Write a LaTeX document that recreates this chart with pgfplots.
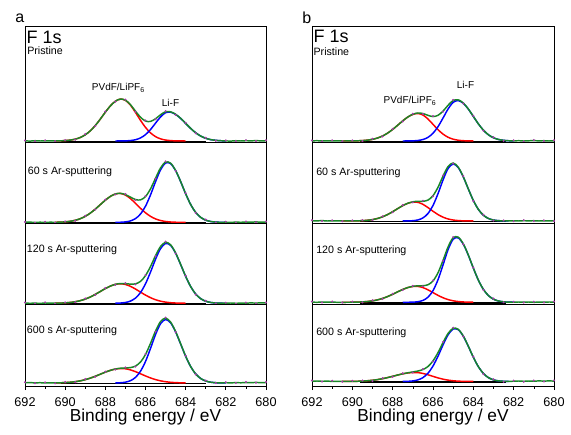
\documentclass[border=0pt]{standalone}
\usepackage{pgfplots}
\pgfplotsset{compat=1.18}
\usepackage{fontspec}
\setmainfont{Liberation Sans}
\definecolor{fitgreen}{RGB}{25,135,40}
\definecolor{datam}{RGB}{170,60,170}
\pgfplotsset{
  sub/.style={
    scale only axis, anchor=north west,
    xmin=680, xmax=692, x dir=reverse,
    ytick=\empty, xtick=\empty,
    axis line style={line width=0.6pt, black},
    clip=false,
  },
  bottom/.style={
    xtick={680,682,...,692}, minor xtick={681,683,...,691},
    xtick pos=bottom, tick align=outside,
    major tick length=3pt, minor tick length=2pt,
    tick style={black, line width=0.5pt},
    /pgf/number format/assume math mode=true,
    xticklabel style={anchor=base, yshift=-12pt, font=\fontsize{9.5}{11}\selectfont},
  },
}
\tikzset{
  redc/.style={color=red, line width=1.1pt, smooth, mark=none},
  bluec/.style={color=blue, line width=1.1pt, smooth, mark=none},
  greenc/.style={color=fitgreen, line width=1.1pt, smooth, mark=none},
  basec/.style={color=black, line width=1.1pt, mark=none},
  datac/.style={color=datam, only marks, mark=*, mark size=0.55pt},
}
\begin{document}
\begin{tikzpicture}
\path[use as bounding box] (0,0) rectangle (428.25pt,-326.25pt);

% ================= Panel a =================
% Pristine
\begin{axis}[sub, at={(18.75pt,-19.5pt)}, width=180.75pt, height=87pt, ymin=-1, ymax=115]
\addplot[basec] coordinates {(690.2,-0.6)(683,-0.6)};
\addplot[datac] coordinates {(692,0.6)(691.5,-0.3)(691,0.7)(690.5,-0.2)(690,0.9)(689.5,1.3)(689,6.9)(688.5,14.9)(688,29.5)(687.5,39.3)(687,41.4)(686.5,29.3)(686,20.6)(685.5,21.7)(685,29.9)(684.5,26.2)(684,18.2)(683.5,7.7)(683,3.2)(682.5,0.2)(682,0.6)(681.5,-0.2)(681,0.8)(680.5,0.0)(680,0.7)};
\addplot[redc] coordinates {(690.5,0.07)(690.25,0.17)(690,0.41)(689.75,0.90)(689.5,1.84)(689.25,3.51)(689,6.20)(688.75,10.16)(688.5,15.48)(688.25,21.9)(688,28.8)(687.75,35.1)(687.5,39.8)(687.25,41.9)(687,40.7)(686.75,35.9)(686.5,28.6)(686.25,20.7)(686,13.6)(685.75,8.13)(685.5,4.39)(685.25,2.15)(685,0.96)(684.75,0.39)(684.5,0.14)(684.25,0.05)(684,0.01)};
\addplot[bluec] coordinates {(687.5,0.01)(687.25,0.04)(687,0.14)(686.75,0.46)(686.5,1.27)(686.25,3.06)(686,6.35)(685.75,11.44)(685.5,17.86)(685.25,24.1)(685,28.3)(684.75,28.8)(684.5,26.6)(684.25,22.6)(684,17.6)(683.75,12.55)(683.5,8.22)(683.25,4.93)(683,2.71)(682.75,1.37)(682.5,0.64)(682.25,0.27)(682,0.10)};
\addplot[greenc] coordinates {(692,0.2)(691.75,-0.1)(691.5,0.3)(691.25,0.0)(691,0.2)(690.75,0.1)(690.5,0.07)(690.25,0.17)(690,0.41)(689.75,0.90)(689.5,1.84)(689.25,3.51)(689,6.20)(688.75,10.16)(688.5,15.48)(688.25,21.9)(688,28.8)(687.75,35.1)(687.5,39.8)(687.25,41.94)(687,40.84)(686.75,36.36)(686.5,29.87)(686.25,23.76)(686,19.95)(685.75,19.57)(685.5,22.25)(685.25,26.25)(685,29.26)(684.75,29.19)(684.5,26.74)(684.25,22.65)(684,17.6)(683.75,12.55)(683.5,8.22)(683.25,4.93)(683,2.71)(682.75,1.37)(682.5,0.64)(682.25,0.27)(682,0.10)(681.75,-0.1)(681.5,0.3)(681.25,0.0)(681,0.3)(680.75,0.1)(680.5,0.4)(680.25,0.1)(680,0.3)};
\end{axis}
% 60 s
\begin{axis}[sub, at={(18.75pt,-106.5pt)}, width=180.75pt, height=60.75pt, ymin=-0.6, ymax=80.4]
\addplot[basec] coordinates {(690.2,-0.6)(683,-0.6)};
\addplot[datac] coordinates {(692,0.5)(691.5,-0.4)(691,0.6)(690.5,-0.3)(690,1.0)(689.5,1.6)(689,6.7)(688.5,12.8)(688,22.8)(687.5,27.9)(687,28.4)(686.5,22.3)(686,26.4)(685.5,43.6)(685,61.0)(684.5,51.4)(684,29.2)(683.5,9.5)(683,2.8)(682.5,-0.2)(682,0.7)(681.5,-0.1)(681,0.9)(680.5,0.1)(680,0.8)};
\addplot[redc] coordinates {(690.5,0.11)(690.25,0.26)(690,0.55)(689.75,1.12)(689.5,2.10)(689.25,3.68)(689,6.05)(688.75,9.27)(688.5,13.28)(688.25,17.77)(688,22.2)(687.75,26.0)(687.5,28.4)(687.25,28.95)(687,27.3)(686.75,23.8)(686.5,19.1)(686.25,14.1)(686,9.62)(685.75,6.04)(685.5,3.49)(685.25,1.87)(685,0.92)(684.75,0.41)(684.5,0.17)(684.25,0.07)(684,0.02)};
\addplot[bluec] coordinates {(687.5,0.04)(687.25,0.15)(687,0.51)(686.75,1.48)(686.5,3.77)(686.25,8.36)(686,16.2)(685.75,27.5)(685.5,40.7)(685.25,52.6)(685,59.4)(684.75,58.8)(684.5,51.8)(684.25,40.8)(684,28.6)(683.75,17.9)(683.5,10.0)(683.25,5.0)(683,2.22)(682.75,0.88)(682.5,0.31)(682.25,0.10)(682,0.03)};
\addplot[greenc] coordinates {(692,0.1)(691.75,0.3)(691.5,-0.1)(691.25,0.2)(691,0.0)(690.75,0.2)(690.5,0.11)(690.25,0.26)(690,0.55)(689.75,1.12)(689.5,2.10)(689.25,3.68)(689,6.05)(688.75,9.27)(688.5,13.28)(688.25,17.77)(688,22.2)(687.75,26.0)(687.5,28.44)(687.25,29.1)(687,27.81)(686.75,25.28)(686.5,22.87)(686.25,22.46)(686,25.82)(685.75,33.54)(685.5,44.19)(685.25,54.47)(685,60.32)(684.75,59.21)(684.5,51.97)(684.25,40.87)(684,28.62)(683.75,17.9)(683.5,10.0)(683.25,5.0)(683,2.22)(682.75,0.88)(682.5,0.31)(682.25,0.10)(682,0.2)(681.75,0.0)(681.5,0.3)(681.25,0.1)(681,0.4)(680.75,0.2)(680.5,0.5)(680.25,0.2)(680,0.4)};
\end{axis}
% 120 s
\begin{axis}[sub, at={(18.75pt,-167.25pt)}, width=180.75pt, height=60.75pt, ymin=-0.7, ymax=80.3]
\addplot[basec] coordinates {(690.2,-0.6)(683,-0.6)};
\addplot[datac] coordinates {(692,0.8)(691.5,-0.3)(691,0.9)(690.5,-0.4)(690,0.9)(689.5,1.0)(689,4.9)(688.5,8.4)(688,15.3)(687.5,18.5)(687,20.2)(686.5,18.9)(686,28.3)(685.5,47.1)(685,61.7)(684.5,49.8)(684,27.6)(683.5,8.7)(683,2.6)(682.5,-0.2)(682,0.6)(681.5,-0.4)(681,0.7)(680.5,-0.2)(680,0.8)};
\addplot[redc] coordinates {(690.5,0.10)(690.25,0.22)(690,0.44)(689.75,0.86)(689.5,1.55)(689.25,2.64)(689,4.22)(688.75,6.33)(688.5,8.93)(688.25,11.83)(688,14.72)(687.75,17.21)(687.5,18.9)(687.25,19.5)(687,18.84)(686.75,16.98)(686.5,14.28)(686.25,11.21)(686,8.21)(685.75,5.61)(685.5,3.57)(685.25,2.13)(685,1.18)(684.75,0.61)(684.5,0.29)(684.25,0.13)(684,0.06)};
\addplot[bluec] coordinates {(687.5,0.08)(687.25,0.27)(687,0.82)(686.75,2.20)(686.5,5.17)(686.25,10.7)(686,19.5)(685.75,31.2)(685.5,44.1)(685.25,54.7)(685,59.85)(684.75,57.9)(684.5,50.1)(684.25,38.8)(684,26.9)(683.75,16.7)(683.5,9.26)(683.25,4.60)(683,2.04)(682.75,0.81)(682.5,0.29)(682.25,0.09)(682,0.03)};
\addplot[greenc] coordinates {(692,0.3)(691.75,0.0)(691.5,0.2)(691.25,-0.1)(691,0.3)(690.75,0.1)(690.5,0.10)(690.25,0.22)(690,0.44)(689.75,0.86)(689.5,1.55)(689.25,2.64)(689,4.22)(688.75,6.33)(688.5,8.93)(688.25,11.83)(688,14.72)(687.75,17.21)(687.5,18.98)(687.25,19.77)(687,19.66)(686.75,19.18)(686.5,19.45)(686.25,21.91)(686,27.71)(685.75,36.81)(685.5,47.67)(685.25,56.83)(685,61.03)(684.75,58.51)(684.5,50.39)(684.25,38.93)(684,26.96)(683.75,16.7)(683.5,9.26)(683.25,4.60)(683,2.04)(682.75,0.81)(682.5,0.29)(682.25,0.09)(682,0.1)(681.75,0.3)(681.5,0.0)(681.25,0.2)(681,0.1)(680.75,0.4)(680.5,0.2)(680.25,0.5)(680,0.3)};
\end{axis}
% 600 s
\begin{axis}[sub, bottom, at={(18.75pt,-228pt)}, width=180.75pt, height=61.5pt, ymin=-3, ymax=79]
\addplot[basec] coordinates {(690.2,-0.6)(683,-0.6)};
\addplot[datac] coordinates {(692,0.7)(691.5,-0.2)(691,0.6)(690.5,-0.3)(690,1.0)(689.5,0.8)(689,3.9)(688.5,6.2)(688,11.4)(687.5,13.4)(687,15.6)(686.5,16.4)(686,29.1)(685.5,51.3)(685,65.4)(684.5,50.9)(684,27.3)(683.5,8.6)(683,2.5)(682.5,-0.1)(682,0.8)(681.5,0.0)(681,1.0)(680.5,0.2)(680,1.0)};
\addplot[redc] coordinates {(690.5,0.10)(690.25,0.21)(690,0.41)(689.75,0.76)(689.5,1.32)(689.25,2.16)(689,3.34)(688.75,4.88)(688.5,6.74)(688.25,8.79)(688,10.85)(687.75,12.64)(687.5,13.92)(687.25,14.49)(687,14.21)(686.75,13.10)(686.5,11.35)(686.25,9.23)(686,7.06)(685.75,5.07)(685.5,3.42)(685.25,2.17)(685,1.29)(684.75,0.72)(684.5,0.38)(684.25,0.19)(684,0.09)};
\addplot[bluec] coordinates {(687.5,0.07)(687.25,0.27)(687,0.84)(686.75,2.31)(686.5,5.57)(686.25,11.72)(686,21.5)(685.75,34.6)(685.5,48.5)(685.25,59.3)(685,63.5)(684.75,60.2)(684.5,51.1)(684.25,39.0)(684,26.7)(683.75,16.4)(683.5,9.06)(683.25,4.48)(683,1.99)(682.75,0.79)(682.5,0.28)(682.25,0.09)(682,0.03)};
\addplot[greenc] coordinates {(692,0.2)(691.75,0.4)(691.5,0.1)(691.25,0.3)(691,0.0)(690.75,0.2)(690.5,0.10)(690.25,0.21)(690,0.41)(689.75,0.76)(689.5,1.32)(689.25,2.16)(689,3.34)(688.75,4.88)(688.5,6.74)(688.25,8.79)(688,10.85)(687.75,12.64)(687.5,13.99)(687.25,14.76)(687,15.05)(686.75,15.41)(686.5,16.92)(686.25,20.95)(686,28.56)(685.75,39.67)(685.5,51.92)(685.25,61.47)(685,64.79)(684.75,60.92)(684.5,51.48)(684.25,39.19)(684,26.79)(683.75,16.4)(683.5,9.06)(683.25,4.48)(683,1.99)(682.75,0.79)(682.5,0.28)(682.25,0.09)(682,0.3)(681.75,0.1)(681.5,0.4)(681.25,0.2)(681,0.5)(680.75,0.3)(680.5,0.6)(680.25,0.3)(680,0.5)};
\end{axis}

% ================= Panel b =================
% Pristine
\begin{axis}[sub, at={(234pt,-19.5pt)}, width=181.5pt, height=87pt, ymin=-1, ymax=115]
\addplot[basec] coordinates {(689.6,-0.6)(682.4,-0.6)};
\addplot[datac] coordinates {(692,0.6)(691.5,-0.3)(691,0.7)(690.5,-0.2)(690,0.6)(689.5,0.0)(689,2.2)(688.5,4.5)(688,12.1)(687.5,19.6)(687,27.3)(686.5,27.0)(686,25.0)(685.5,29.4)(685,41.1)(684.5,37.5)(684,25.2)(683.5,10.3)(683,3.8)(682.5,0.2)(682,0.7)(681.5,-0.4)(681,0.9)(680.5,-0.1)(680,0.7)};
\addplot[redc] coordinates {(690.5,0.01)(690.25,0.03)(690,0.08)(689.75,0.19)(689.5,0.42)(689.25,0.86)(689,1.66)(688.75,3.00)(688.5,5.04)(688.25,7.91)(688,11.57)(687.75,15.80)(687.5,20.14)(687.25,23.94)(687,26.57)(686.75,27.5)(686.5,26.0)(686.25,22.02)(686,16.68)(685.75,11.31)(685.5,6.86)(685.25,3.72)(685,1.81)(684.75,0.79)(684.5,0.31)(684.25,0.11)(684,0.03)};
\addplot[bluec] coordinates {(687.5,0.01)(687.25,0.04)(687,0.16)(686.75,0.52)(686.5,1.47)(686.25,3.63)(686,7.76)(685.75,14.37)(685.5,23.08)(685.25,32.1)(685,38.7)(684.75,40.4)(684.5,37.75)(684.25,31.97)(684,24.56)(683.75,17.12)(683.5,10.82)(683.25,6.20)(683,3.22)(682.75,1.52)(682.5,0.65)(682.25,0.25)(682,0.09)};
\addplot[greenc] coordinates {(692,0.1)(691.75,0.3)(691.5,0.0)(691.25,0.2)(691,0.1)(690.75,0.1)(690.5,0.01)(690.25,0.03)(690,0.08)(689.75,0.19)(689.5,0.42)(689.25,0.86)(689,1.66)(688.75,3.00)(688.5,5.04)(688.25,7.91)(688,11.57)(687.75,15.80)(687.5,20.15)(687.25,23.98)(687,26.73)(686.75,28.02)(686.5,27.47)(686.25,25.65)(686,24.44)(685.75,25.68)(685.5,29.94)(685.25,35.82)(685,40.51)(684.75,41.19)(684.5,38.06)(684.25,32.08)(684,24.59)(683.75,17.12)(683.5,10.82)(683.25,6.20)(683,3.22)(682.75,1.52)(682.5,0.65)(682.25,0.25)(682,0.09)(681.75,0.3)(681.5,0.0)(681.25,0.2)(681,0.4)(680.75,0.1)(680.5,0.3)(680.25,0.0)(680,0.2)};
\end{axis}
% 60 s
\begin{axis}[sub, at={(234pt,-106.5pt)}, width=181.5pt, height=60.75pt, ymin=-2, ymax=79]
\addplot[basec] coordinates {(689.6,-0.6)(682.4,-0.6)};
\addplot[datac] coordinates {(692,0.8)(691.5,0.0)(691,0.7)(690.5,-0.3)(690,0.6)(689.5,0.9)(689,0.9)(688.5,4.7)(688,8.7)(687.5,15.9)(687,18.6)(686.5,20.3)(686,24.7)(685.5,45.6)(685,57.4)(684.5,44.9)(684,20.0)(683.5,6.3)(683,0.5)(682.5,0.6)(682,-0.2)(681.5,0.8)(681,-0.1)(680.5,0.7)(680,-0.1)};
\addplot[redc] coordinates {(690.5,0.01)(690.25,0.03)(690,0.07)(689.75,0.16)(689.5,0.35)(689.25,0.73)(689,1.40)(688.75,2.52)(688.5,4.19)(688.25,6.48)(688,9.30)(687.75,12.40)(687.5,15.36)(687.25,17.67)(687,18.89)(686.75,18.65)(686.5,16.66)(686.25,13.43)(686,9.76)(685.75,6.41)(685.5,3.79)(685.25,2.03)(685,0.98)(684.75,0.43)(684.5,0.17)(684.25,0.06)(684,0.02)};
\addplot[bluec] coordinates {(687.5,0.02)(687.25,0.08)(687,0.31)(686.75,1.06)(686.5,3.05)(686.25,7.47)(686,15.52)(685.75,27.42)(685.5,41.18)(685.25,52.55)(685,57.0)(684.75,53.48)(684.5,44.16)(684.25,32.11)(684,20.54)(683.75,11.58)(683.5,5.74)(683.25,2.50)(683,0.96)(682.75,0.33)(682.5,0.10)(682.25,0.03)};
\addplot[greenc] coordinates {(692,0.3)(691.75,0.1)(691.5,0.4)(691.25,0.0)(691,0.2)(690.75,0.1)(690.5,0.01)(690.25,0.03)(690,0.07)(689.75,0.16)(689.5,0.35)(689.25,0.73)(689,1.40)(688.75,2.52)(688.5,4.19)(688.25,6.48)(688,9.30)(687.75,12.40)(687.5,15.38)(687.25,17.75)(687,19.20)(686.75,19.71)(686.5,19.71)(686.25,20.90)(686,25.28)(685.75,33.83)(685.5,44.97)(685.25,54.58)(685,57.98)(684.75,53.91)(684.5,44.33)(684.25,32.17)(684,20.56)(683.75,11.58)(683.5,5.74)(683.25,2.50)(683,0.96)(682.75,0.33)(682.5,0.10)(682.25,0.03)(682,0.2)(681.75,0.0)(681.5,0.3)(681.25,0.1)(681,0.3)(680.75,0.0)(680.5,0.2)(680.25,0.1)(680,0.3)};
\end{axis}
% 120 s
\begin{axis}[sub, at={(234pt,-167.25pt)}, width=181.5pt, height=60.75pt, ymin=-1.7, ymax=79.3]
\addplot[basec] coordinates {(689.6,-0.6)(682.4,-0.6)};
\addplot[datac] coordinates {(692,0.7)(691.5,-0.2)(691,0.8)(690.5,-0.3)(690,0.7)(689.5,-0.1)(689,2.0)(688.5,3.3)(688,8.6)(687.5,12.3)(687,16.5)(686.5,16.0)(686,21.9)(685.5,41.5)(685,65.2)(684.5,58.1)(684,34.8)(683.5,12.3)(683,3.7)(682.5,0.0)(682,0.6)(681.5,-0.3)(681,0.6)(680.5,-0.2)(680,0.7)};
\addplot[redc] coordinates {(690.5,0.02)(690.25,0.04)(690,0.09)(689.75,0.20)(689.5,0.41)(689.25,0.80)(689,1.44)(688.75,2.44)(688.5,3.88)(688.25,5.77)(688,8.04)(687.75,10.49)(687.5,12.84)(687.25,14.72)(687,15.81)(686.75,15.89)(686.5,14.70)(686.25,12.47)(686,9.70)(685.75,6.92)(685.5,4.53)(685.25,2.72)(685,1.50)(684.75,0.76)(684.5,0.35)(684.25,0.15)(684,0.06)};
\addplot[bluec] coordinates {(687.5,0.01)(687.25,0.04)(687,0.16)(686.75,0.59)(686.5,1.88)(686.25,5.08)(686,11.64)(685.75,22.67)(685.5,37.52)(685.25,52.79)(685,63.12)(684.75,64.42)(684.5,58.29)(684.25,47.20)(684,34.20)(683.75,22.17)(683.5,12.86)(683.25,6.68)(683,3.10)(682.75,1.29)(682.5,0.48)(682.25,0.16)(682,0.05)};
\addplot[greenc] coordinates {(692,0.2)(691.75,0.0)(691.5,0.3)(691.25,0.1)(691,0.2)(690.75,0.0)(690.5,0.02)(690.25,0.04)(690,0.09)(689.75,0.20)(689.5,0.41)(689.25,0.80)(689,1.44)(688.75,2.44)(688.5,3.88)(688.25,5.77)(688,8.04)(687.75,10.49)(687.5,12.85)(687.25,14.76)(687,15.97)(686.75,16.48)(686.5,16.58)(686.25,17.55)(686,21.34)(685.75,29.59)(685.5,42.05)(685.25,55.51)(685,64.62)(684.75,65.18)(684.5,58.64)(684.25,47.35)(684,34.26)(683.75,22.17)(683.5,12.86)(683.25,6.68)(683,3.10)(682.75,1.29)(682.5,0.48)(682.25,0.16)(682,0.05)(681.75,0.3)(681.5,0.1)(681.25,0.3)(681,0.0)(680.75,0.2)(680.5,0.1)(680.25,0.3)(680,0.2)};
\end{axis}
% 600 s
\begin{axis}[sub, bottom, at={(234pt,-228pt)}, width=181.5pt, height=61.5pt, ymin=-4.5, ymax=77.5]
\addplot[basec] coordinates {(689.6,-0.6)(682.4,-0.6)};
\addplot[datac] coordinates {(692,0.9)(691.5,0.0)(691,0.8)(690.5,-0.2)(690,0.8)(689.5,1.0)(689,0.6)(688.5,3.4)(688,4.6)(687.5,8.3)(687,9.0)(686.5,12.5)(686,20.0)(685.5,39.6)(685,53.8)(684.5,45.0)(684,24.9)(683.5,7.4)(683,2.2)(682.5,-0.3)(682,0.9)(681.5,-0.2)(681,1.0)(680.5,0.0)(680,1.1)};
\addplot[redc] coordinates {(690.5,0.03)(690.25,0.06)(690,0.12)(689.75,0.23)(689.5,0.42)(689.25,0.74)(689,1.22)(688.75,1.91)(688.5,2.82)(688.25,3.94)(688,5.20)(687.75,6.49)(687.5,7.64)(687.25,8.51)(687,8.96)(686.75,8.86)(686.5,8.06)(686.25,6.72)(686,5.14)(685.75,3.60)(685.5,2.32)(685.25,1.37)(685,0.74)(684.75,0.37)(684.5,0.17)(684.25,0.07)(684,0.03)};
\addplot[bluec] coordinates {(687.5,0.05)(687.25,0.19)(687,0.59)(686.75,1.61)(686.5,3.89)(686.25,8.25)(686,15.42)(685.75,25.36)(685.5,36.71)(685.25,46.77)(685,52.46)(684.75,51.86)(684.5,45.42)(684.25,35.26)(684,24.26)(683.75,14.80)(683.5,8.00)(683.25,3.84)(683,1.63)(682.75,0.61)(682.5,0.21)(682.25,0.06)};
\addplot[greenc] coordinates {(692,0.3)(691.75,0.5)(691.5,0.2)(691.25,0.4)(691,0.1)(690.75,0.2)(690.5,0.03)(690.25,0.06)(690,0.12)(689.75,0.23)(689.5,0.42)(689.25,0.74)(689,1.22)(688.75,1.91)(688.5,2.82)(688.25,3.94)(688,5.20)(687.75,6.49)(687.5,7.69)(687.25,8.70)(687,9.55)(686.75,10.47)(686.5,11.95)(686.25,14.97)(686,20.56)(685.75,28.96)(685.5,39.03)(685.25,48.14)(685,53.20)(684.75,52.23)(684.5,45.59)(684.25,35.33)(684,24.29)(683.75,14.80)(683.5,8.00)(683.25,3.84)(683,1.63)(682.75,0.61)(682.5,0.21)(682.25,0.06)(682,0.3)(681.75,0.5)(681.5,0.2)(681.25,0.5)(681,0.3)(680.75,0.6)(680.5,0.4)(680.25,0.6)(680,0.4)};
\end{axis}

% ================= Labels =================
\begin{scope}[every node/.style={inner sep=0pt}]
\node[anchor=base west, font=\fontsize{12}{14}\selectfont] at (11.25pt,-17.25pt) {a};
\node[anchor=base west, font=\fontsize{12}{14}\selectfont] at (226.5pt,-18pt) {b};
\node[anchor=base west, font=\fontsize{13.5}{15}\selectfont] at (19.75pt,-32.5pt) {F 1s};
\node[anchor=base west, font=\fontsize{13.5}{15}\selectfont] at (235pt,-32pt) {F 1s};
\node[anchor=base west, font=\fontsize{8}{9.6}\selectfont] at (20.25pt,-41.25pt) {Pristine};
\node[anchor=base west, font=\fontsize{8}{9.6}\selectfont] at (235pt,-42pt) {Pristine};
\node[anchor=base west, font=\fontsize{8}{9.6}\selectfont] at (20.75pt,-130.5pt) {60 s Ar-sputtering};
\node[anchor=base west, font=\fontsize{8}{9.6}\selectfont] at (237pt,-131.25pt) {60 s Ar-sputtering};
\node[anchor=base west, font=\fontsize{8}{9.6}\selectfont] at (20pt,-189.5pt) {120 s Ar-sputtering};
\node[anchor=base west, font=\fontsize{8}{9.6}\selectfont] at (237pt,-190pt) {120 s Ar-sputtering};
\node[anchor=base west, font=\fontsize{8}{9.6}\selectfont] at (20pt,-250pt) {600 s Ar-sputtering};
\node[anchor=base west, font=\fontsize{8}{9.6}\selectfont] at (237pt,-251.25pt) {600 s Ar-sputtering};
\node[anchor=base west, font=\fontsize{7.5}{9}\selectfont] at (68.75pt,-67.9pt) {PVdF/LiPF\textsubscript{6}};
\node[anchor=base west, font=\fontsize{7.5}{9}\selectfont] at (287.5pt,-77.5pt) {PVdF/LiPF\textsubscript{6}};
\node[anchor=base west, font=\fontsize{7.5}{9}\selectfont] at (121.25pt,-79.5pt) {Li-F};
\node[anchor=base west, font=\fontsize{7.5}{9}\selectfont] at (342.5pt,-66.25pt) {Li-F};
\node[anchor=base, font=\fontsize{13}{15}\selectfont] at (109.1pt,-316.1pt) {Binding energy / eV};
\node[anchor=base, font=\fontsize{13}{15}\selectfont] at (324.75pt,-316.1pt) {Binding energy / eV};
\end{scope}
\end{tikzpicture}
\end{document}
